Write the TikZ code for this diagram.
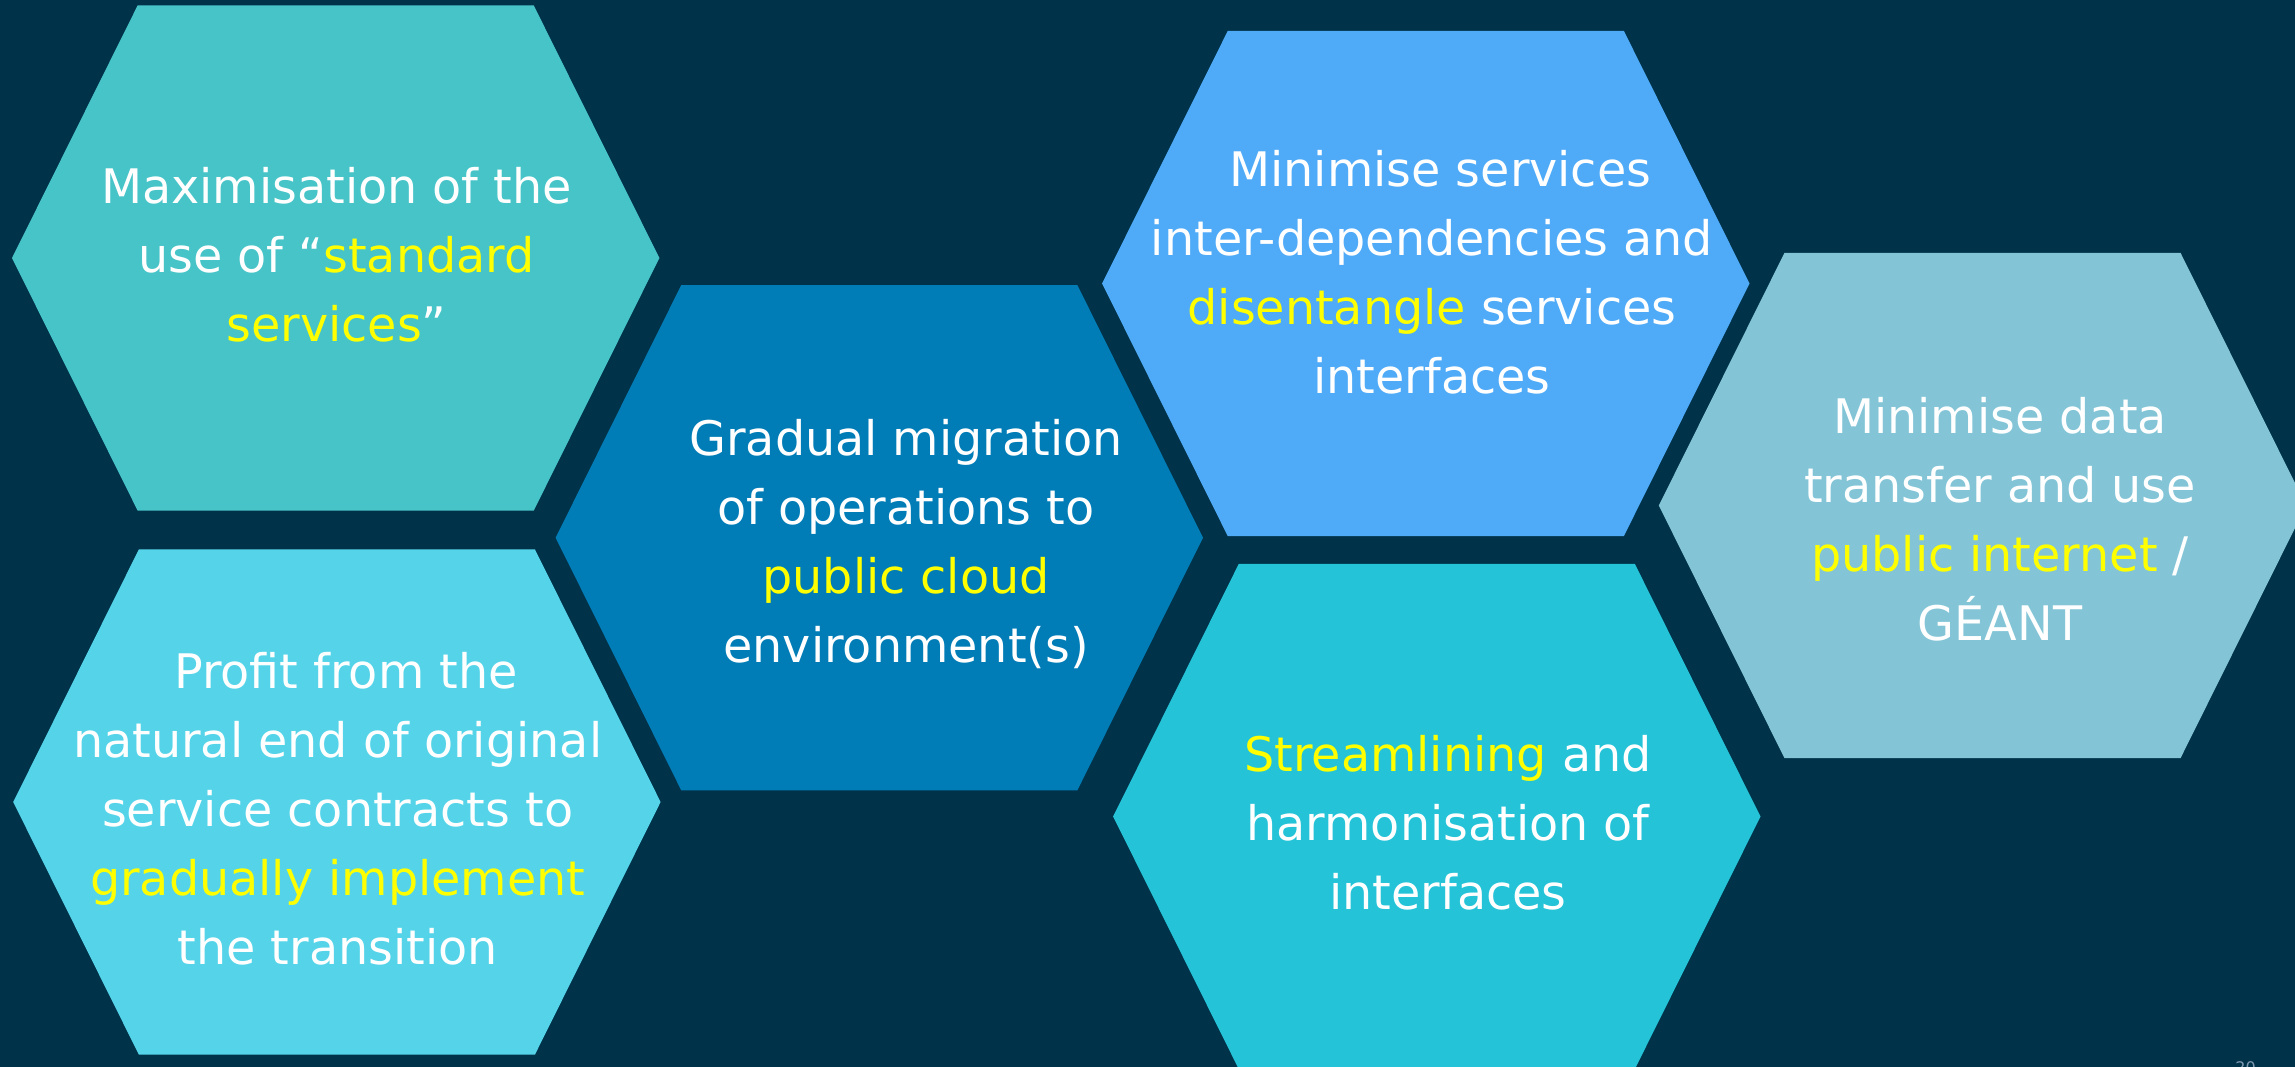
\documentclass[tikz,border=0pt]{standalone}
\usepackage{fontspec}
\setmainfont{DejaVu Sans}
\definecolor{bgnavy}{HTML}{00324A}
\definecolor{hexteal}{HTML}{47C4C8}
\definecolor{hexsky}{HTML}{55D4E9}
\definecolor{hexblue}{HTML}{007DB7}
\definecolor{hexazure}{HTML}{4FAAF7}
\definecolor{hexcyan}{HTML}{24C3D8}
\definecolor{hexpale}{HTML}{83C5D7}
\definecolor{hlyellow}{HTML}{FFFF00}
\definecolor{pagenum}{HTML}{7F9AAE}
\newcommand{\hl}[1]{{\color{hlyellow}#1}}
% flat-topped hexagon centred at (#1,#2), filled with #3
\newcommand{\hexcell}[3]{%
  \fill[#3] (#1-323.7,#2) -- ++(125.7,-252.7) -- ++(396,0) -- ++(125.7,252.7)
    -- ++(-125.7,252.7) -- ++(-396,0) -- cycle;}
% captions are placed by the baseline of their last line
\tikzset{
  hextext/.style={text=white, align=center, anchor=base, inner sep=0pt,
    font=\fontsize{23.8pt}{34.5pt}\selectfont},
}
\begin{document}
\begin{tikzpicture}[x=0.5pt,y=-0.5pt]
  \useasboundingbox (0,0) rectangle (2295,1066);
  \clip (0,0) rectangle (2295,1066);
  \fill[bgnavy] (-5,-5) rectangle (2300,1071);

  % honeycomb cells
  \hexcell{335.7}{258}{hexteal}
  \hexcell{336.9}{802}{hexsky}
  \hexcell{879.3}{537.7}{hexblue}
  \hexcell{1425.8}{283.5}{hexazure}
  \hexcell{1436.8}{816.5}{hexcyan}
  \hexcell{1982.5}{505.5}{hexpale}

  % cell captions
  \node[hextext] (standard) at (336.5,341)
    {Maximisation of the\\use of “\hl{standard}\\\hl{services}”};
  \node[hextext] (contracts) at (337.7,964.6)
    {\hspace*{0.35em}Profit from the\\natural end of original\\service contracts to\\\hl{gradually implement}\\the transition};
  \node[hextext] (migration) at (906,662.8)
    {Gradual migration\\of operations to\\\hl{public cloud}\\environment(s)};
  \node[hextext] (disentangle) at (1432,393)
    {\hspace*{0.35em}Minimise services\\inter-dependencies and\\\hl{disentangle} services\\interfaces};
  \node[hextext] (streamline) at (1448,909)
    {\hl{Streamlining} and\\harmonisation of\\interfaces};
  \node[hextext] (transfer) at (2000,640)
    {Minimise data\\transfer and use\\\hl{public internet} /\\GÉANT};

  % slide number, running off the lower edge
  \node[text=pagenum, anchor=base, inner sep=0pt,
    font=\fontsize{8pt}{10pt}\selectfont] (slideno) at (2245.5,1073) {20};
\end{tikzpicture}
\end{document}
